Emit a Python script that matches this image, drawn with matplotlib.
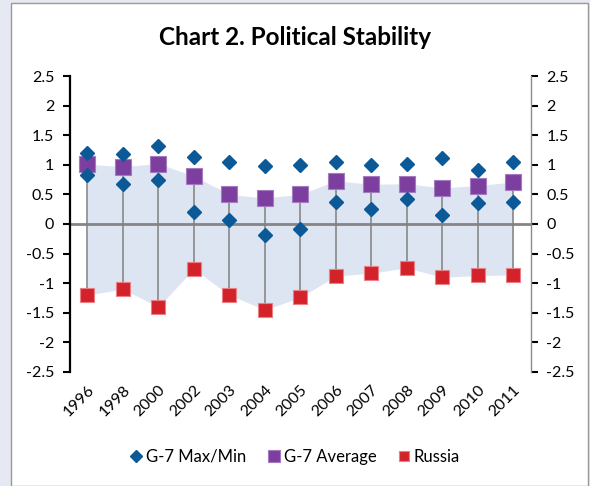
import matplotlib
matplotlib.use("Agg")
import matplotlib.pyplot as plt
import matplotlib.patches as mpatches
import numpy as np

plt.rcParams['font.family'] = ['Lato', 'DejaVu Sans']

YEARS = ['1996', '1998', '2000', '2002', '2003', '2004', '2005',
         '2006', '2007', '2008', '2009', '2010', '2011']
G7_MAX = [1.20, 1.19, 1.32, 1.14, 1.04, 0.98, 1.00, 1.05, 1.00, 1.01, 1.11, 0.91, 1.04]
G7_MIN = [0.82, 0.67, 0.74, 0.21, 0.07, -0.19, -0.08, 0.37, 0.25, 0.42, 0.15, 0.35, 0.38]
G7_AVG = [1.01, 0.97, 1.02, 0.81, 0.50, 0.44, 0.50, 0.73, 0.67, 0.68, 0.61, 0.65, 0.71]
RUSSIA = [-1.20, -1.10, -1.40, -0.76, -1.20, -1.45, -1.24, -0.88, -0.83, -0.74, -0.90, -0.87, -0.86]

fig = plt.figure(figsize=(5.9, 4.86), dpi=100)
fig.patch.set_facecolor('#e6e8f2')
frame = mpatches.Rectangle((11/590, 0), 577/590, 483/486, transform=fig.transFigure,
                           facecolor='white', edgecolor='#9a9a9a', lw=1, zorder=-5)
fig.patches.append(frame)

ax = fig.add_axes([0.118, 0.2346, 0.782, 0.609])
ax.set_facecolor('none')
x = np.arange(len(YEARS))

ax.fill_between(x, G7_AVG, RUSSIA, color='#dce5f1', lw=0, zorder=1)
ax.axhline(0, color='#858585', lw=2, zorder=2)
ax.vlines(x, RUSSIA, G7_AVG, color='#808080', lw=1.1, zorder=3)

dia = dict(marker='D', ls='none', ms=7.5, color='#0b5a97', mec='#0b5a97', zorder=5)
ax.plot(x, G7_MAX, label='G-7 Max/Min', **dia)
ax.plot(x, G7_MIN, **dia)
ax.plot(x, G7_AVG, marker='s', ls='none', ms=11.5, color='#7d3f9f', mec='#a57bc0',
        mew=0.8, zorder=4, label='G-7 Average')
ax.plot(x, RUSSIA, marker='s', ls='none', ms=10, color='#d3222a', mec='#e88085',
        mew=0.8, zorder=4, label='Russia')

ax.set_xlim(-0.5, len(YEARS) - 0.5)
ax.set_ylim(-2.5, 2.5)
yt = [2.5, 2, 1.5, 1, 0.5, 0, -0.5, -1, -1.5, -2, -2.5]
ax.set_yticks(yt)
ax.set_yticklabels([f'{v:g}' for v in yt])
ax.set_xticks(x)
ax.set_xticklabels(YEARS, rotation=45, ha='right', rotation_mode='anchor')
ax.tick_params(axis='x', length=0, labelsize=11.5, pad=8)
ax.tick_params(axis='y', direction='out', length=5, width=1.5, labelsize=11.5,
               left=True, right=True, labelleft=True, labelright=True, pad=6)

for s in ['top', 'bottom']:
    ax.spines[s].set_visible(False)
ax.spines['left'].set_color('black')
ax.spines['left'].set_linewidth(1.6)
ax.spines['right'].set_color('#8c8c8c')
ax.spines['right'].set_linewidth(1.0)

fig.text(0.5, 0.922, 'Chart 2. Political Stability', ha='center', va='center',
         fontsize=17.5, fontweight='bold')

fig.legend(loc='center', bbox_to_anchor=(0.5, 0.06), ncol=3, frameon=False,
           fontsize=12, handlelength=0.7, handletextpad=0.25, columnspacing=1.3,
           markerscale=0.75)

fig.savefig('out.png', dpi=100, facecolor=fig.get_facecolor())
